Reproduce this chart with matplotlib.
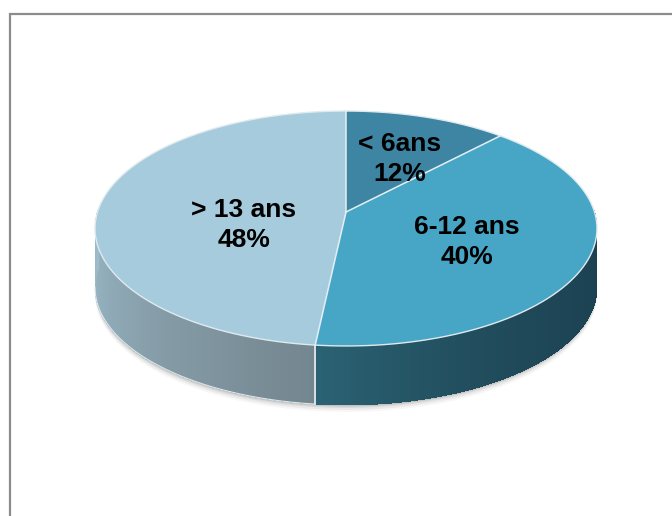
import numpy as np
from matplotlib import pyplot as plt
from matplotlib.colors import to_rgb

plt.rcParams['font.family'] = ['Liberation Sans', 'DejaVu Sans']

labels = ['< 6ans', '6-12 ans', '> 13 ans']
shares = [12, 39.7, 48.3]
top_colors = ['#3d85a3', '#47a6c6', '#a5cbdc']
side_start = ['#1c4252', '#1c4252', '#74868f']
side_end = ['#1c4252', '#2b6374', '#9dbccb']
label_pos = [(400, 159), (467, 242), (244, 225)]


# circle -> picture, with the slight perspective of the office 3d pie
def project(theta, depth=0.0):
    x, y = np.sin(theta), np.cos(theta)
    w = 1 + 0.1404 * y
    return 346 + 248.5 * x / w, (212 - 85.4 * y) / w + depth


fig, ax = plt.subplots(figsize=(6.72, 5.16), dpi=100)
ax.set_position([0, 0, 1, 1])
ax.set_xlim(0, 672)
ax.set_ylim(516, 0)
ax.axis('off')

# chart frame, open on the right and the bottom of the crop
ax.plot([10, 10, 672], [516, 14, 14], color='#8c8c8c', lw=1.6, solid_joinstyle='miter')

DEPTH = 59
edges = np.cumsum([0] + shares) / sum(shares) * 2 * np.pi

# soft shadow under the rim
t = np.radians(np.linspace(98, 262, 200))
for grow, alpha in zip([7, 5, 3, 1.5], [0.03, 0.05, 0.07, 0.10]):
    sx, sy = project(t, DEPTH + grow)
    ax.fill(np.r_[sx, sx[::-1]], np.r_[sy, sy[::-1] - DEPTH], color='black', alpha=alpha, lw=0)

# rim, only the front half is visible
for i in range(3):
    a0, a1 = max(edges[i], np.pi / 2 - 0.02), min(edges[i + 1], 3 * np.pi / 2 + 0.02)
    if a1 <= a0:
        continue
    steps = np.linspace(a0, a1, 160)
    c0, c1 = np.array(to_rgb(side_start[i])), np.array(to_rgb(side_end[i]))
    for j in range(len(steps) - 1):
        f = (steps[j] - a0) / (a1 - a0)
        if i == 1:
            f = f ** 2.5
        col = c0 + (c1 - c0) * f
        tt = np.array([steps[j], min(steps[j + 1] + 0.012, a1)])
        x, y = project(tt)
        xb, yb = project(tt, DEPTH)
        ax.fill(np.r_[x, xb[::-1]], np.r_[y, yb[::-1]], color=col, lw=0, antialiased=False)

# rim outlines
t = np.linspace(edges[2], np.radians(262), 200)
x, y = project(t, DEPTH)
ax.plot(x, y, color='#dfe8ec', lw=0.8)
sx, sy = project(edges[2])
ax.plot([sx, sx], [sy, sy + DEPTH], color='#e8f0f3', lw=1.2)

# top face
for i in range(3):
    t = np.linspace(edges[i], edges[i + 1], 150)
    x, y = project(t)
    ax.fill(np.r_[346, x], np.r_[212, y], color=top_colors[i], lw=0)

t = np.linspace(0, 2 * np.pi, 400)
x, y = project(t)
ax.plot(x, y, color='#dfeaef', lw=1.0)
for a in edges[:3]:
    ex, ey = project(a)
    ax.plot([346, ex], [212, ey], color='#e4eff3', lw=1.1)

for lab, share, (lx, ly) in zip(labels, shares, label_pos):
    ax.text(lx, ly, f'{lab}\n{share:.0f}%', ha='center', va='center', fontsize=19,
            fontweight='bold', color='black', linespacing=1.32)

fig.savefig('out.png', dpi=100)
